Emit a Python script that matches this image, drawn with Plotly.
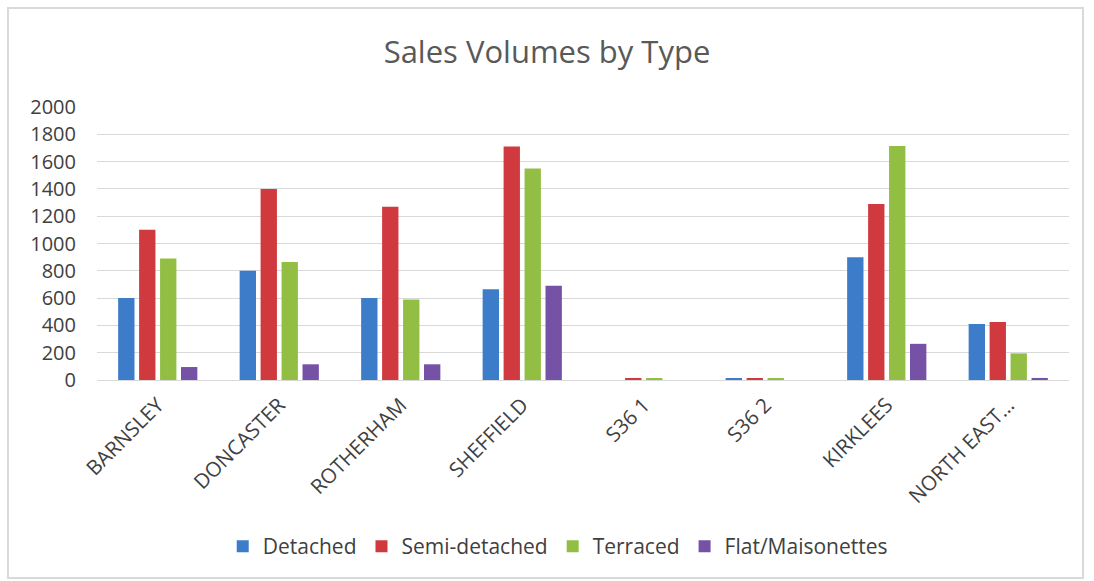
import plotly.graph_objects as go

categories = ["BARNSLEY", "DONCASTER", "ROTHERHAM", "SHEFFIELD", "S36 1", "S36 2", "KIRKLEES", "NORTH EAST…"]
detached = [600, 800, 600, 665, 0, 12, 900, 410]
semi_detached = [1100, 1400, 1270, 1710, 15, 12, 1290, 425]
terraced = [890, 865, 590, 1550, 12, 10, 1715, 195]
flat_maisonettes = [95, 115, 115, 690, 0, 0, 265, 15]

series = [
    ("Detached", detached, "#3D7CC9"),
    ("Semi-detached", semi_detached, "#D03A3E"),
    ("Terraced", terraced, "#93BE44"),
    ("Flat/Maisonettes", flat_maisonettes, "#7552A6"),
]

fig = go.Figure()
for name, vals, col in series:
    fig.add_trace(go.Bar(x=categories, y=vals, name=name, marker=dict(color=col, line=dict(width=0))))

font_family = "Open Sans, Liberation Sans, sans-serif"
fig.update_layout(
    width=1094, height=581,
    margin=dict(l=97, r=25, t=107, b=201),
    paper_bgcolor="white", plot_bgcolor="white",
    barmode="group", bargap=0.31, bargroupgap=0.22,
    title=dict(text="Sales Volumes by Type", x=0.5, xanchor="center", y=0.91, yanchor="middle",
               font=dict(family=font_family, size=31, color="#595959")),
    font=dict(family=font_family, color="#595959"),
    xaxis=dict(tickangle=-45, tickfont=dict(size=20.5, color="#404040"), showgrid=False,
               showline=True, linecolor="#d9d9d9", linewidth=1, ticks="", ticklabelstandoff=4),
    yaxis=dict(range=[0, 2000], dtick=200, tickfont=dict(size=20, color="#404040"),
               showgrid=True, gridcolor="#d9d9d9", gridwidth=1, zeroline=False,
               showline=False, ticks="", ticklabelstandoff=20),
    legend=dict(orientation="h", x=0.474, xanchor="center", y=-0.61, yanchor="middle",
                font=dict(size=21, color="#404040"), itemwidth=30, traceorder="normal"),
    shapes=[dict(type="rect", xref="paper", yref="paper", x0=-0.0916, x1=1.0144, y0=-0.7253, y1=1.3626,
                 line=dict(color="#d9d9d9", width=2), layer="below")],
)
fig.write_html("out.html")
